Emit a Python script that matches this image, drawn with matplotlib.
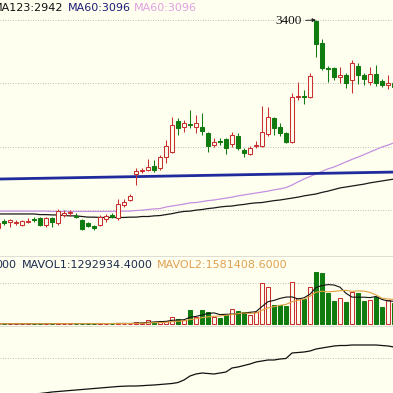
import matplotlib
matplotlib.use("Agg")
import matplotlib.pyplot as plt
from matplotlib.patches import Rectangle
import pandas as pd

BG = "#fffff0"
UP = "#c83030"
DOWN = "#107c10"
GRID = "#a8a8a8"

# ---- daily bars (index points) ----
opens = [2745, 2767, 2764, 2761, 2754, 2765, 2773, 2776, 2754, 2776,
         2761, 2787, 2791, 2784, 2770, 2761, 2750, 2754, 2773, 2786,
         2776, 2817, 2833, 2915, 2923, 2928, 2940, 2934, 2968, 2984,
         3082, 3063, 3072, 3063, 3063, 3044, 3006, 3019, 3025, 3009,
         3035, 2991, 2978, 3002, 3003, 3041, 3091, 3063, 3044, 3016,
         3157, 3162, 3157, 3397, 3328, 3250, 3249, 3219, 3227, 3211,
         3255, 3227, 3205, 3230, 3208, 3195, 3202]
highs = [2767, 2773, 2772, 2770, 2770, 2776, 2779, 2779, 2779, 2779,
         2805, 2802, 2802, 2792, 2773, 2764, 2754, 2786, 2789, 2792,
         2836, 2835, 2852, 2934, 2934, 2962, 2959, 2975, 3022, 3094,
         3091, 3085, 3117, 3101, 3107, 3047, 3028, 3028, 3028, 3047,
         3044, 2997, 3002, 3019, 3129, 3126, 3094, 3076, 3047, 3170,
         3205, 3180, 3233, 3400, 3340, 3255, 3252, 3252, 3233, 3274,
         3265, 3233, 3252, 3258, 3214, 3227, 3211]
lows = [2732, 2754, 2748, 2754, 2751, 2761, 2764, 2751, 2748, 2748,
        2754, 2779, 2783, 2776, 2739, 2748, 2739, 2751, 2764, 2776,
        2770, 2811, 2831, 2880, 2918, 2924, 2921, 2928, 2950, 2981,
        3038, 3047, 3060, 3044, 3038, 2984, 3000, 3006, 2978, 3000,
        2991, 2968, 2975, 2997, 3000, 3035, 3038, 3035, 3013, 3013,
        3148, 3135, 3154, 3283, 3243, 3205, 3211, 3202, 3186, 3170,
        3198, 3195, 3195, 3192, 3189, 3183, 3183]
closes = [2761, 2761, 2770, 2764, 2767, 2768, 2770, 2754, 2776, 2764,
          2798, 2791, 2794, 2781, 2742, 2751, 2746, 2779, 2783, 2779,
          2820, 2827, 2846, 2924, 2926, 2937, 2928, 2968, 3003, 3069,
          3060, 3076, 3069, 3076, 3050, 3003, 3016, 3016, 2997, 3038,
          2997, 2981, 2997, 3006, 3047, 3094, 3060, 3044, 3016, 3157,
          3162, 3159, 3224, 3324, 3249, 3247, 3220, 3227, 3202, 3265,
          3227, 3214, 3230, 3202, 3195, 3202, 3189]
volumes = [17000, 17000, 17000, 17000, 17000, 17000, 17000, 17000, 17000, 17000,
           57000, 17000, 17000, 17000, 17000, 17000, 17000, 57000, 17000, 17000,
           57000, 17000, 28500, 114000, 85500, 228000, 114000, 142500, 171000, 399000,
           285000, 228000, 826500, 427500, 798000, 712500, 399000, 342000, 513000, 855000,
           741000, 712500, 513000, 684000, 2337000, 2109000, 1083000, 1083000, 1054500, 2394000,
           1510500, 1425000, 2109000, 2992500, 2907000, 1795500, 1311000, 1482000, 1254000, 1824000,
           1767000, 1311000, 1368000, 1567500, 969000, 1368000, 1197000]

# moving averages shown on the price panel
ma123 = [2789, 2789, 2789, 2789, 2789, 2789, 2789, 2787, 2787, 2786,
         2786, 2784, 2783, 2783, 2781, 2779, 2779, 2778, 2778, 2778,
         2778, 2778, 2779, 2779, 2781, 2781, 2783, 2784, 2787, 2790,
         2794, 2797, 2798, 2801, 2803, 2806, 2808, 2811, 2813, 2814,
         2817, 2819, 2822, 2824, 2825, 2828, 2831, 2833, 2836, 2839,
         2842, 2846, 2849, 2852, 2857, 2861, 2866, 2871, 2874, 2877,
         2880, 2883, 2887, 2890, 2893, 2896, 2899]
ma60 = [2798, 2798, 2798, 2798, 2798, 2798, 2798, 2798, 2798, 2797,
        2797, 2797, 2797, 2797, 2797, 2797, 2797, 2797, 2797, 2797,
        2797, 2798, 2798, 2800, 2801, 2803, 2805, 2806, 2811, 2814,
        2817, 2820, 2824, 2825, 2828, 2831, 2833, 2836, 2839, 2842,
        2846, 2849, 2852, 2855, 2858, 2861, 2865, 2868, 2872, 2880,
        2890, 2899, 2907, 2915, 2923, 2931, 2937, 2945, 2953, 2961,
        2968, 2976, 2984, 2992, 3000, 3006, 3013]

# hand-drawn trend line (bar index, price)
trend_x = [0, 66]
trend_y = [2899, 2921]

# lower indicator panel
indicator = [3, 3.5, 4, 4.5, 5, 5.5, 6, 6.5, 7.2, 8,
             8.5, 9, 9.5, 10, 10.5, 11, 11.5, 12, 12.5, 13,
             13.5, 13.8, 14, 14, 14.3, 14.7, 15, 15.5, 16, 16.5,
             17.5, 20, 24, 26, 27, 26.5, 26, 27, 28, 32,
             33, 34.5, 36, 38, 39, 40, 40, 41, 41.5, 47,
             47.5, 48, 49, 51, 52, 53, 54, 54.5, 54.5, 55,
             55, 55, 55, 55, 54.5, 54, 53]

price_grid = [3400, 3200, 3000, 2800]
vol_grid = [2337000]
ind_grid = [42]
peak_price = 3400

ma_labels = [("MA123:2942", "#111111"), ("MA60:3096", "#1c1c78"), ("MA60:3096", "#e2a0e2")]
vol_labels = [("000", "#1d2b4f"), ("MAVOL1:1292934.4000", "#1d2b4f"),
              ("MAVOL2:1581408.6000", "#e0a050")]

W = H = 393
fig = plt.figure(figsize=(W / 100, H / 100), dpi=100, facecolor=BG)


def panel(top_px, bottom_px):
    ax = fig.add_axes([0, 1 - bottom_px / H, 1, (bottom_px - top_px) / H])
    ax.set_facecolor("none")
    ax.set_axis_off()
    ax.set_xlim(1 / 3, 395 / 6)
    return ax


ax_p = panel(0, 256)
ax_v = panel(256, 326)
ax_i = panel(326, 393)

ax_p.set_ylim(2656.6, 3463)
ax_v.set_ylim(-114000, 3876000)
ax_i.set_ylim(7, 74)

dots = (0, (1, 2))
for g in price_grid:
    ax_p.axhline(g, color=GRID, lw=0.6, ls=dots, zorder=0)
for g in vol_grid:
    ax_v.axhline(g, color=GRID, lw=0.6, ls=dots, zorder=0)
for g in ind_grid:
    ax_i.axhline(g, color=GRID, lw=0.6, ls=dots, zorder=0)

n = len(opens)
idx = list(range(n))
bw = 0.68

# candles
for i in idx:
    o, h, l, c = opens[i], highs[i], lows[i], closes[i]
    up = c >= o
    col = UP if up else DOWN
    ax_p.plot([i, i], [l, h], color=col, lw=0.75, zorder=3, solid_capstyle="butt")
    body = max(abs(c - o), 0.8)
    ax_p.add_patch(Rectangle((i - bw / 2, min(o, c)), bw, body,
                             facecolor=BG if up else DOWN, edgecolor=col,
                             lw=0.75, zorder=4))

# moving averages and trend line
ax_p.plot(idx, ma123, color="#1a1a1a", lw=0.9, zorder=2)
ax_p.plot(idx, ma60, color="#c490e0", lw=0.9, zorder=2)
ax_p.plot(trend_x, trend_y, color="#1f2a9c", lw=2.0, zorder=2)

# peak marker
pk = highs.index(peak_price)
ax_p.annotate(f"{peak_price}", xy=(pk, peak_price), xytext=(48.4, 3397),
              ha="center", va="center", fontsize=9.5, family="Liberation Serif",
              color="#111111", zorder=6,
              arrowprops=dict(arrowstyle="-|>", color="#222222", lw=0.7,
                              mutation_scale=5, shrinkA=1, shrinkB=0))

# volume bars
for i in idx:
    up = closes[i] >= opens[i]
    col = UP if up else DOWN
    ax_v.add_patch(Rectangle((i - 0.4, 0), 0.8, volumes[i],
                             facecolor=BG if up else DOWN, edgecolor=col,
                             lw=0.75, zorder=3))
vol = pd.Series(volumes, dtype=float)
ax_v.plot(idx, vol.rolling(5, min_periods=1).mean(), color="#111111", lw=0.8, zorder=4)
ax_v.plot(idx, vol.rolling(10, min_periods=1).mean(), color="#e0a040", lw=0.8, zorder=4)

# lower indicator
ax_i.plot(idx, indicator, color="#111111", lw=0.9)

# panel separators
for y in (256, 326):
    fig.add_artist(plt.Line2D([0, 1], [1 - y / H, 1 - y / H], color="#d8d8d0", lw=0.6))

# legend texts
fs = 8
fig.text(63 / W, 1 - 8 / H, ma_labels[0][0], color=ma_labels[0][1], fontsize=fs,
         ha="right", va="center")
fig.text(68 / W, 1 - 8 / H, ma_labels[1][0], color=ma_labels[1][1], fontsize=fs,
         ha="left", va="center")
fig.text(134 / W, 1 - 8 / H, ma_labels[2][0], color=ma_labels[2][1], fontsize=fs,
         ha="left", va="center")

fig.text(16 / W, 1 - 265 / H, vol_labels[0][0], color=vol_labels[0][1], fontsize=fs,
         ha="right", va="center")
fig.text(22 / W, 1 - 265 / H, vol_labels[1][0], color=vol_labels[1][1], fontsize=fs,
         ha="left", va="center")
fig.text(157 / W, 1 - 265 / H, vol_labels[2][0], color=vol_labels[2][1], fontsize=fs,
         ha="left", va="center")

fig.savefig("out.png", dpi=100, facecolor=BG)
